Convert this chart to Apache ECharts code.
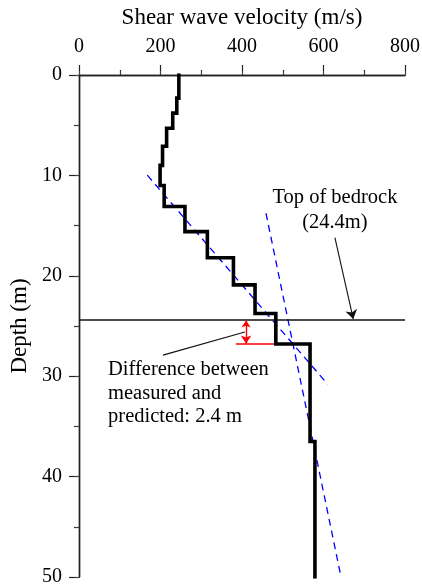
<!DOCTYPE html>
<html>
<head>
<meta charset="utf-8">
<script src="https://cdn.jsdelivr.net/npm/echarts@6/dist/echarts.min.js"></script>
<style>
  html, body { margin: 0; padding: 0; background: #fff; }
  #chart { width: 422px; height: 584px; }
</style>
</head>
<body>
<div id="chart"></div>
<script>
// Measured shear-wave velocity profile: top depth of each layer (m) and its velocity (m/s)
const layerTops = [0, 2.3, 3.8, 5.3, 7.1, 9.0, 11.0, 13.1, 15.6, 18.2, 20.9, 23.75, 26.8, 36.5];
const layerVs   = [245, 240, 230, 215, 205, 199, 209, 260, 315, 379, 432, 483, 567, 579];
const profileBottom = 50;

// Fitted trend lines, endpoints as [velocity, depth]
const trendUpper = [[167.6, 9.98], [610.3, 30.8]];
const trendLower = [[458.9, 13.77], [643, 50]];

// Bedrock depths (m)
const bedrockDepth = 24.4;
const predictedDepth = 26.8;

// Axis ticks
const velocityTicks = [0, 200, 400, 600, 800];
const depthTicks = [0, 10, 20, 30, 40, 50];

// Build the stepped profile polyline
const profile = [];
layerTops.forEach((top, i) => {
  const bottom = i + 1 < layerTops.length ? layerTops[i + 1] : profileBottom;
  profile.push([layerVs[i], top], [layerVs[i], bottom]);
});

const FONT = 'Liberation Serif';
const INK = '#000';

const chart = echarts.init(document.getElementById('chart'), null, { renderer: 'canvas' });

const axisLine = { show: true, lineStyle: { color: '#222', width: 1.4 } };

chart.setOption({
  animation: false,
  backgroundColor: '#fff',
  grid: { left: 79, top: 75, width: 326, height: 502, containLabel: false, outerBoundsMode: 'none' },
  xAxis: [
    {
      type: 'value', position: 'top',
      min: velocityTicks[0], max: velocityTicks[velocityTicks.length - 1], interval: 200,
      name: 'Shear wave velocity (m/s)', nameLocation: 'middle', nameGap: 46,
      nameTextStyle: { fontFamily: FONT, fontSize: 23, color: INK },
      axisLine,
      axisTick: { show: true, inside: false, length: 10, lineStyle: { color: '#222', width: 1.2 } },
      minorTick: { show: true, splitNumber: 2, length: 5, lineStyle: { color: '#222', width: 1.2 } },
      axisLabel: { fontFamily: FONT, fontSize: 20, color: INK, margin: 18 },
      splitLine: { show: false }
    },
    {
      type: 'value', position: 'bottom',
      min: 0, max: 800, interval: 200,
      axisLine,
      axisTick: { show: true, inside: true, length: 4, lineStyle: { color: '#444' } },
      minorTick: { show: true, splitNumber: 2, length: 4, lineStyle: { color: '#444' } },
      axisLabel: { show: false },
      splitLine: { show: false }
    }
  ],
  yAxis: [
    {
      type: 'value', inverse: true, position: 'left',
      min: depthTicks[0], max: depthTicks[depthTicks.length - 1], interval: 10,
      name: 'Depth (m)', nameLocation: 'middle', nameGap: 46, nameRotate: 90,
      nameTextStyle: { fontFamily: FONT, fontSize: 23, color: INK },
      axisLine,
      axisTick: { show: true, inside: false, length: 10, lineStyle: { color: '#222', width: 1.2 } },
      minorTick: { show: true, splitNumber: 2, length: 5, lineStyle: { color: '#222', width: 1.2 } },
      axisLabel: { fontFamily: FONT, fontSize: 20, color: INK, margin: 17 },
      splitLine: { show: false }
    },
    {
      type: 'value', inverse: true, position: 'right',
      min: 0, max: 50, interval: 10,
      axisLine,
      axisTick: { show: true, inside: true, length: 4, lineStyle: { color: '#444' } },
      minorTick: { show: true, splitNumber: 2, length: 4, lineStyle: { color: '#444' } },
      axisLabel: { show: false },
      splitLine: { show: false }
    }
  ],
  series: [
    {
      name: 'Trend upper', type: 'line', data: trendUpper, symbol: 'none', silent: true,
      lineStyle: { color: '#0000ff', width: 1.3, type: [7, 5] }, z: 3
    },
    {
      name: 'Trend lower', type: 'line', data: trendLower, symbol: 'none', silent: true,
      lineStyle: { color: '#0000ff', width: 1.3, type: [7, 5] }, z: 3
    },
    {
      name: 'Top of bedrock', type: 'line', symbol: 'none', silent: true,
      data: [[0, bedrockDepth], [800, bedrockDepth]],
      lineStyle: { color: '#111', width: 1.6 }, z: 4
    },
    {
      name: 'Measured profile', type: 'line', data: profile, symbol: 'none', silent: true,
      lineStyle: { color: '#000', width: 3.6, join: 'miter', cap: 'square' }, z: 6
    },
    {
      name: 'Predicted bedrock', type: 'line', symbol: 'none', silent: true,
      data: [[385, predictedDepth], [483, predictedDepth]],
      lineStyle: { color: '#ff0000', width: 1.6 }, z: 5
    },
    {
      name: 'Difference arrow', type: 'lines', coordinateSystem: 'cartesian2d', silent: true,
      symbol: ['arrow', 'arrow'], symbolSize: [7, 8],
      data: [{ coords: [[410, bedrockDepth + 0.05], [410, predictedDepth - 0.05]] }],
      lineStyle: { color: '#ff0000', width: 1.4, opacity: 1, curveness: 0 }, z: 5
    },
    {
      name: 'Leaders', type: 'lines', coordinateSystem: 'cartesian2d', silent: true,
      data: [
        { coords: [[206, 27.9], [407, 25.6]], symbol: ['none', 'none'] },
        { coords: [[628, 16.2], [673, 24.3]], symbol: ['none', 'arrow'], symbolSize: [6, 9] }
      ],
      lineStyle: { color: '#111', width: 1.1, opacity: 1, curveness: 0 }, z: 5
    },
    {
      name: 'Labels', type: 'scatter', symbolSize: 0, silent: true,
      itemStyle: { opacity: 1 },
      data: [
        {
          value: [628, 13.42],
          label: {
            show: true, position: 'inside', align: 'center', verticalAlign: 'middle',
            formatter: 'Top of bedrock\n(24.4m)', lineHeight: 25
          }
        },
        {
          value: [71.3, 31.7],
          label: {
            show: true, position: 'right', distance: 0, align: 'left', verticalAlign: 'middle',
            formatter: 'Difference between\nmeasured and\npredicted: 2.4 m', lineHeight: 23.5
          }
        }
      ],
      label: { fontFamily: FONT, fontSize: 20.5, color: INK, opacity: 1 },
      z: 7
    }
  ]
});
</script>
</body>
</html>
